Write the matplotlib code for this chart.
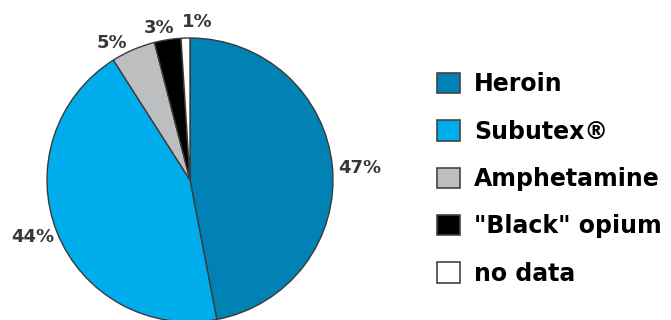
import matplotlib.pyplot as plt

# ============= Data =============
categories = ['Heroin', 'Subutex®', 'Amphetamine', '"Black" opium', 'no data']
shares = [47, 44, 5, 3, 1]
pct_labels = ['47%', '44%', '5%', '3%', '1%']
colors = ['#0083b4', '#00adec', '#bdbec0', '#000000', '#ffffff']

W, H = 671, 320
fig = plt.figure(figsize=(W / 100, H / 100), dpi=100)

# pie axes: centre (190, 180) px, radii 143 x 142 px
cx, cy, rx, ry = 190, 180, 143, 142
ax = fig.add_axes([(cx - rx) / W, (H - cy - ry) / H, 2 * rx / W, 2 * ry / H])
wedges, texts = ax.pie(shares, colors=colors, startangle=90, counterclock=False,
                       labels=pct_labels, labeldistance=1.18,
                       wedgeprops=dict(edgecolor='#3a3a3a', linewidth=1.0),
                       textprops=dict(fontsize=13, fontweight='bold', color='#383838',
                                      family='DejaVu Sans'))
ax.set_aspect('auto')
ax.set_xlim(-1, 1)
ax.set_ylim(-1, 1)
ax.axis('off')

# label centres in pixels, converted to the unit-ellipse coords
label_px = [(360, 168), (33, 237), (112, 43), (159, 28), (197, 22)]
for t, (px, py) in zip(texts, label_px):
    t.set_position(((px - cx) / rx, (cy - py) / ry))
    t.set_ha('center')
    t.set_va('center')

# legend
leg = fig.legend(wedges, categories, loc='upper left', bbox_to_anchor=(416 / W, 1 - 51 / H),
                 frameon=False, handlelength=0.95, handleheight=0.95, handletextpad=0.6,
                 labelspacing=0.99,
                 prop=dict(size=17, weight='bold', family='DejaVu Sans'))
for h in leg.legend_handles:
    h.set_edgecolor('#444444')
    h.set_linewidth(1.2)

fig.savefig('out.png', dpi=100)
